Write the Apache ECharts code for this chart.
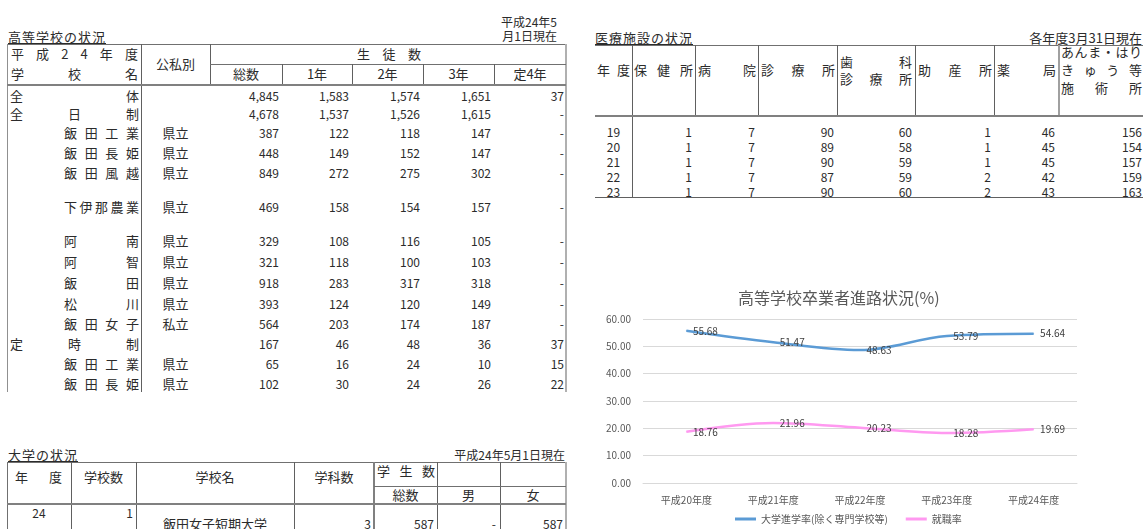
<!DOCTYPE html>
<html><head><meta charset="utf-8">
<script src="https://cdn.jsdelivr.net/npm/echarts@6/dist/echarts.min.js"></script>
<style>
html,body{margin:0;padding:0;background:#fff;width:1143px;height:529px;overflow:hidden;}
#page{position:relative;width:1143px;height:529px;overflow:hidden;font-family:"Noto Sans CJK JP","Noto Sans",sans-serif;color:#2b2b2b;}
.t{position:absolute;white-space:nowrap;font-size:11px;line-height:14px;height:14px;}
.sp{display:flex;justify-content:space-between;}
.ln{position:absolute;}
#chart{position:absolute;left:590px;top:280px;width:553px;height:249px;}
</style></head><body><div id="page"><div id="chart"></div></div>
<script>
// ---------- 高等学校の状況 ----------
const hsNames = ['全体','全日制','飯田工業','飯田長姫','飯田風越','下伊那農業','阿南','阿智','飯田','松川','飯田女子','定時制','飯田工業','飯田長姫'];
const hsType  = ['','','県立','県立','県立','県立','県立','県立','県立','県立','私立','','県立','県立'];
const hsTotal = ['4,845','4,678','387','448','849','469','329','321','918','393','564','167','65','102'];
const hsY1    = ['1,583','1,537','122','149','272','158','108','118','283','124','203','46','16','30'];
const hsY2    = ['1,574','1,526','118','152','275','154','116','100','317','120','174','48','24','24'];
const hsY3    = ['1,651','1,615','147','147','302','157','105','103','318','149','187','36','10','26'];
const hsY4    = ['37','-','-','-','-','-','-','-','-','-','-','37','15','22'];
const hsSub   = ['総数','1年','2年','3年','定4年'];

// ---------- 医療施設の状況 ----------
const medYears   = ['19','20','21','22','23'];
const medHoken   = [1,1,1,1,1];
const medByoin   = [7,7,7,7,7];
const medShinryo = [90,89,90,87,90];
const medShika   = [60,58,59,59,60];
const medJosan   = [1,1,1,2,2];
const medYaku    = [46,45,45,42,43];
const medAnma    = [156,154,157,159,163];

// ---------- 大学の状況 ----------
const uniYear = ['24'];
const uniCount = ['1'];
const uniName = ['飯田女子短期大学'];
const uniDept = ['3'];
const uniTotal = ['587'];
const uniMale = ['-'];
const uniFemale = ['587'];

// ---------- グラフ ----------
const chartCats = ['平成20年度','平成21年度','平成22年度','平成23年度','平成24年度'];
const univRate  = [55.68,51.47,48.63,53.79,54.64];
const jobRate   = [18.76,21.96,20.23,18.28,19.69];
const yTicks = {min:0, max:60, step:10};

const page = document.getElementById('page');
function T(x1,x2,yc,s,align,size,extra){
  const d=document.createElement('div'); d.className='t';
  d.style.left=x1+'px'; d.style.width=(x2-x1)+'px'; d.style.top=(yc-7)+'px';
  d.style.fontSize=(size||12)+'px';
  if(align==='spread'){ d.classList.add('sp'); for(const ch of s){const sp=document.createElement('span'); sp.textContent=ch; d.appendChild(sp);} }
  else { d.style.textAlign=align||'left'; d.textContent=s; }
  if(extra) Object.assign(d.style,extra);
  page.appendChild(d); return d;
}
function H(x1,x2,y,c,w){const d=document.createElement('div');d.className='ln';d.style.left=x1+'px';d.style.width=(x2-x1)+'px';d.style.top=y+'px';d.style.height=(w||1)+'px';d.style.background=c||'#707070';page.appendChild(d);}
function V(x,y1,y2,c,w){const d=document.createElement('div');d.className='ln';d.style.left=x+'px';d.style.width=(w||1)+'px';d.style.top=y1+'px';d.style.height=(y2-y1)+'px';d.style.background=c||'#707070';page.appendChild(d);}
const TT={textDecoration:'underline',letterSpacing:'1px'};
const J=13, N=12;

// ===== 左上表 =====
T(430,557,22,'平成24年5','right',12);
T(430,557,36,'月1日現在','right',12);
T(8,150,37,'高等学校の状況','left',J,TT);
const LC=[7,141,210,282,352,423,494,566];
H(7,566,44,'#707070');
V(7,44,392,'#909090'); V(141,44,392,'#606060'); V(210,44,84,'#606060'); V(565,44,392,'#b0b0b0',2);
H(210,566,64,'#707070');
for(let i=3;i<7;i++) V(LC[i],64,84,'#606060');
H(7,566,84,'#808080',2);
T(11,138,54,'平成24年度','spread',J);
T(11,138,74,'学校名','spread',J);
T(141,210,64,'公私別','center',J);
T(357,421,54,'生徒数','spread',J);
hsSub.forEach((s,i)=>T(LC[i+2],LC[i+3],74,s,'center',J));
const rowH=[19,18,20,19,22,46,21,21,21,21,20,20,20,20];
let y=86;
const numCols=[hsTotal,hsY1,hsY2,hsY3,hsY4];
hsNames.forEach((nm,i)=>{
  const yc=y+rowH[i]/2;
  const lvl = hsType[i]==='' ? 0 : 1;
  T(lvl?64:10,139,yc,nm,'spread',J);
  if(hsType[i]) T(141,210,yc,hsType[i],'center',J);
  numCols.forEach((arr,j)=>T(LC[j+2],LC[j+3]-(j===4?2:3),yc,arr[i],'right',N));
  y+=rowH[i];
});

// ===== 左下表 =====
T(8,150,455,'大学の状況','left',J,TT);
T(360,565,455,'平成24年5月1日現在','right',12);
const UC=[7,71,136,294,374,437,500,566];
H(7,566,462,'#707070');
V(7,462,529,'#707070'); V(71,462,529,'#606060'); V(136,462,529,'#606060'); V(294,462,529,'#606060');
V(373,462,529,'#808080',2); V(437,462,529,'#606060'); V(500,462,529,'#606060'); V(565,462,529,'#b0b0b0',2);
H(374,566,486,'#707070');
H(7,566,503,'#808080',2);
T(15,62,477,'年度','spread',J);
T(71,136,477,'学校数','center',J);
T(136,294,477,'学校名','center',J);
T(294,374,477,'学科数','center',J);
T(377,435,471,'学生数','spread',J);
T(374,437,495,'総数','center',J);
T(437,500,495,'男','center',J);
T(500,566,495,'女','center',J);
uniYear.forEach((v,i)=>{
  T(7,71,513,v,'center',N);
  T(71,133,513,uniCount[i],'right',N);
  T(136,294,524,uniName[i],'center',J);
  T(294,371,524,uniDept[i],'right',N);
  T(374,434,524,uniTotal[i],'right',N);
  T(437,496,524,uniMale[i],'right',N);
  T(500,563,524,uniFemale[i],'right',N);
});

// ===== 右上表 =====
T(595,760,38,'医療施設の状況','left',J,TT);
T(930,1142,38,'各年度3月31日現在','right',J);
const MC=[595,632,695,758,837,915,994,1058,1143];
H(595,1143,45,'#707070');
for(let i=1;i<8;i++) V(MC[i],45,115,i===7?'#a0a0a0':'#606060',i===7?2:1);
V(632,115,197,'#606060');
H(595,1143,115,'#808080',2);
H(595,1143,197,'#606060');
T(597,630,70,'年度','spread',J);
T(634,693,70,'保健所','spread',J);
T(698,756,70,'病院','spread',J);
T(761,835,70,'診療所','spread',J);
T(840,912,62,'歯科','spread',J);
T(840,912,79,'診療所','spread',J);
T(918,992,70,'助産所','spread',J);
T(997,1056,70,'薬局','spread',J);
T(1061,1142,52,'あんま・はり','spread',J);
T(1061,1142,70,'きゅう等','spread',J);
T(1061,1142,88,'施術所','spread',J);
const medCols=[medHoken,medByoin,medShinryo,medShika,medJosan,medYaku,medAnma];
medYears.forEach((yr,i)=>{
  const yc=132+15*i;
  T(595,632,yc,yr,'center',N);
  medCols.forEach((arr,j)=>T(MC[j+1],MC[j+2]-(j===6?1:3),yc,String(arr[i]),'right',N));
});

// ===== グラフ =====
const chart = echarts.init(document.getElementById('chart'));
const FF='"Noto Sans CJK JP","Noto Sans",sans-serif';
const lbl={show:true,position:'right',distance:6,fontSize:10,color:'#404040',fontFamily:FF,formatter:p=>p.value.toFixed(2)};
chart.setOption({
  animation:false,
  title:{text:'高等学校卒業者進路状況(%)',left:143,top:5,textStyle:{fontSize:16,fontWeight:'normal',color:'#595959',fontFamily:FF}},
  grid:{left:53,right:66,top:39,bottom:46},
  legend:{left:140,bottom:0,itemWidth:21,itemHeight:3,icon:'rect',itemGap:18,
    textStyle:{fontSize:10,color:'#595959',fontFamily:FF},
    data:['大学進学率(除く専門学校等)','就職率']},
  xAxis:{type:'category',data:chartCats,boundaryGap:true,
    axisLine:{lineStyle:{color:'#d9d9d9'}},axisTick:{show:false},
    axisLabel:{fontSize:10,color:'#595959',margin:12,fontFamily:FF}},
  yAxis:{type:'value',min:yTicks.min,max:yTicks.max,interval:yTicks.step,
    axisLine:{show:false},axisTick:{show:false},
    axisLabel:{fontSize:10,color:'#595959',margin:12,fontFamily:FF,formatter:v=>v.toFixed(2)},
    splitLine:{lineStyle:{color:'#d9d9d9'}}},
  series:[
    {name:'大学進学率(除く専門学校等)',type:'line',data:univRate,smooth:0.35,symbol:'circle',symbolSize:1,
      lineStyle:{width:2.5,color:'#5b9bd5'},itemStyle:{color:'#5b9bd5'},label:lbl},
    {name:'就職率',type:'line',data:jobRate,smooth:0.35,symbol:'circle',symbolSize:1,
      lineStyle:{width:2.5,color:'#ff99f0'},itemStyle:{color:'#ff99f0'},label:lbl}
  ]
});
</script></body></html>
